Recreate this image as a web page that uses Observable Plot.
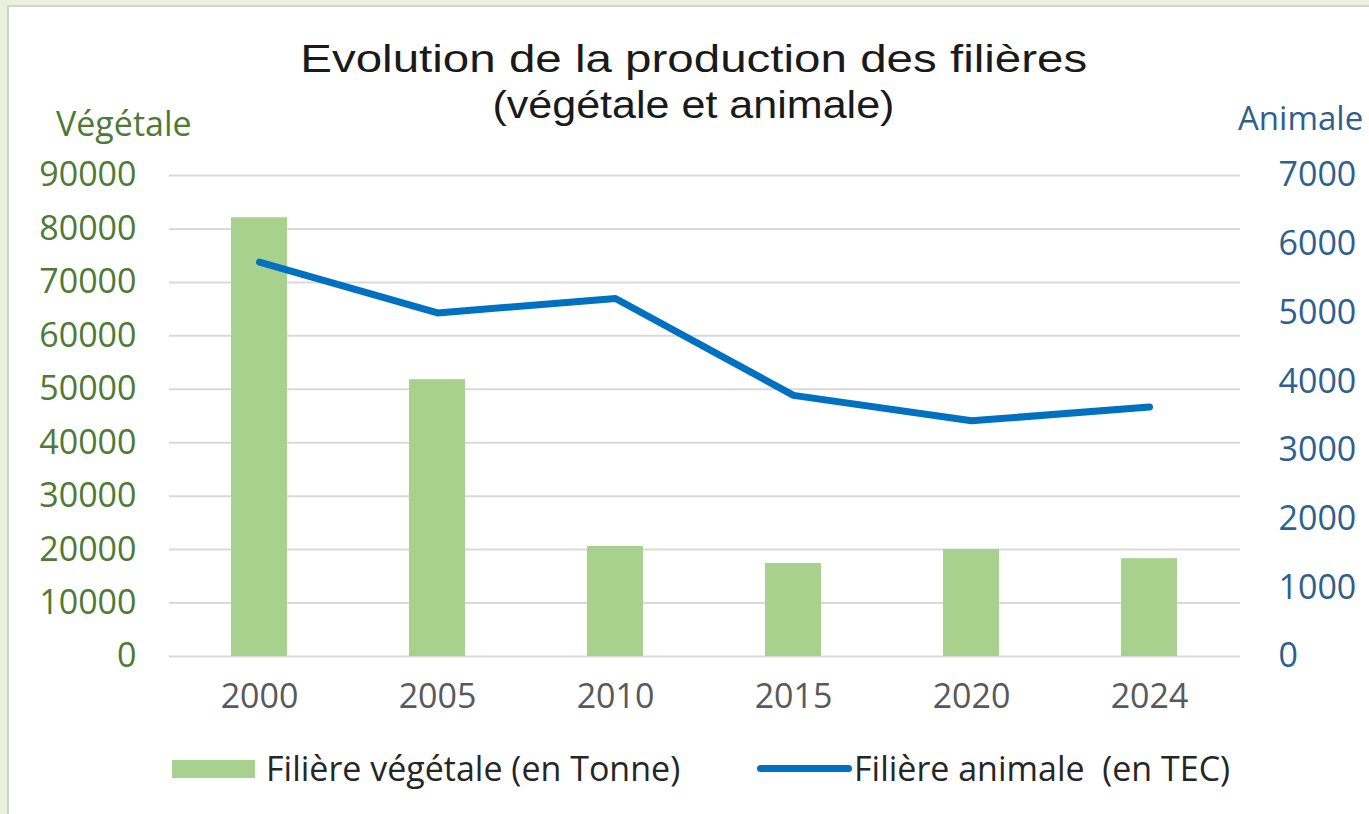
<!DOCTYPE html>
<html>
<head>
<meta charset="utf-8">
<script src="https://cdn.jsdelivr.net/npm/d3@7"></script>
<script src="https://cdn.jsdelivr.net/npm/@observablehq/plot@0.6"></script>
<style>
  html, body { margin: 0; padding: 0; background: #EBF1DE; }
  #frame { position: relative; width: 1369px; height: 814px; overflow: hidden; background: #EBF1DE; }
  #card { position: absolute; left: 7px; top: 5px; right: 0; bottom: 0; background: #fff;
          border-left: 2px solid #D0D4C8; border-top: 2px solid #D3D6CC; }
  .abs { position: absolute; font-family: "Open Sans", sans-serif; white-space: nowrap; }
  .title { font-family: "Liberation Sans", Arial, sans-serif; font-size: 38px; line-height: 42px; color: #1a1a1a; }
  #ylab-left { left: 56px; top: 100px; font-size: 34px; color: #4F7A35; }
  #ylab-right { left: 1238px; top: 95px; font-size: 33px; color: #2F5F8F; }
  #chart { position: absolute; left: 0; top: 0; }
  .legend-text { font-size: 34px; color: #262626; line-height: 40px; }
</style>
</head>
<body>
<div id="frame">
  <div id="card"></div>
  <div id="chart"></div>
  <div class="abs title" id="t1" style="top:38px;">Evolution de la production des filières</div>
  <div class="abs title" id="t2" style="top:84px;">(végétale et animale)</div>
  <div class="abs" id="ylab-left">Végétale</div>
  <div class="abs" id="ylab-right">Animale</div>
  <div class="abs" style="left:172px; top:760px; width:83px; height:18px; background:#A9D18E;"></div>
  <div class="abs legend-text" style="left:266px; top:748px;">Filière végétale (en Tonne)</div>
  <div class="abs" style="left:757px; top:765px; width:95px; height:7px; border-radius:4px; background:#0070C0;"></div>
  <div class="abs legend-text" style="left:854px; top:748px;">Filière animale&nbsp;&nbsp;(en TEC)</div>
</div>
<script>
// Data
const years = ["2000", "2005", "2010", "2015", "2020", "2024"];
const vegetale = [82100, 51800, 20600, 17400, 20000, 18300];   // tonnes
const animale = [5740, 5000, 5210, 3800, 3430, 3630];          // TEC
const leftTicks = [0, 10000, 20000, 30000, 40000, 50000, 60000, 70000, 80000, 90000];
const rightTicks = [0, 1000, 2000, 3000, 4000, 5000, 6000, 7000];

const leftMax = 90000, rightMax = 7000;
const k = leftMax / rightMax;
const rows = years.map((y, i) => ({year: y, veg: vegetale[i], ani: animale[i]}));

const chart = Plot.plot({
  width: 1369,
  height: 716,
  marginLeft: 169,
  marginRight: 129,
  marginTop: 175,
  marginBottom: 60,
  style: {fontFamily: "Open Sans, sans-serif", fontSize: "34px", background: "transparent", overflow: "visible"},
  x: {domain: years, paddingInner: 0.685, paddingOuter: 0.3425, label: null},
  y: {domain: [0, leftMax], label: null},
  marks: [
    Plot.ruleY(leftTicks, {stroke: "#D9D9D9", strokeWidth: 2}),
    Plot.barY(rows, {x: "year", y: "veg", fill: "#A9D18E"}),
    Plot.line(rows, {x: "year", y: d => d.ani * k, stroke: "#0070C0", strokeWidth: 7, strokeLinecap: "round", strokeLinejoin: "round"}),
    Plot.axisX({tickSize: 0, tickPadding: 27, color: "#595959", fill: "#595959", fontSize: 34, label: null}),
    Plot.axisY(leftTicks, {anchor: "left", tickSize: 0, tickPadding: 33, color: "#4F7A35", fill: "#4F7A35", fontSize: 34, label: null,
      tickFormat: d => String(d)}),
    Plot.axisY(rightTicks.map(v => v * k), {anchor: "right", tickSize: 0, tickPadding: 38, color: "#2F5F8F", fill: "#2F5F8F", fontSize: 34, label: null,
      tickFormat: d => String(Math.round(d / k))})
  ]
});
document.getElementById("chart").appendChild(chart);

// Title lines: stretch horizontally to the reference's widths, centred on the chart
const centerX = 693.5;
[["t1", 787], ["t2", 402]].forEach(([id, target]) => {
  const el = document.getElementById(id);
  const w = el.getBoundingClientRect().width;
  el.style.left = (centerX - w / 2) + "px";
  el.style.transformOrigin = "50% 50%";
  el.style.transform = `scaleX(${target / w})`;
});
</script>
</body>
</html>
